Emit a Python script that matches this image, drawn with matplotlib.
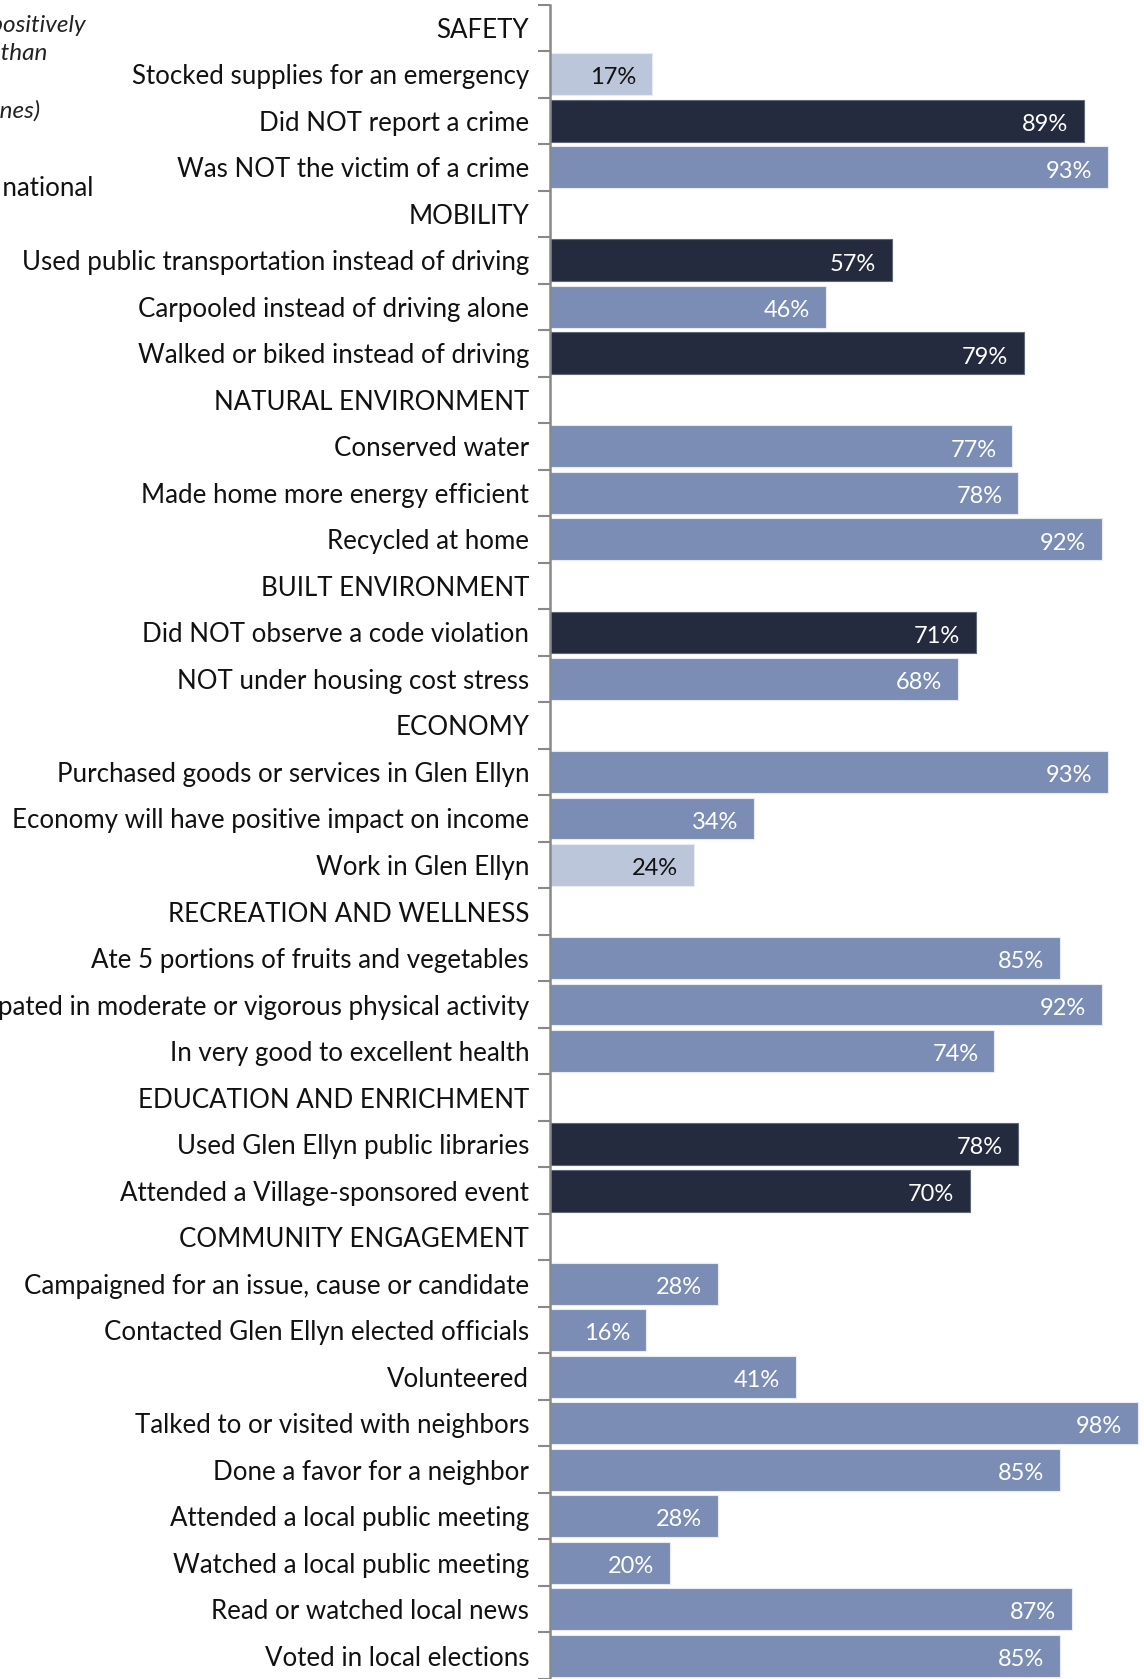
import matplotlib
matplotlib.use("Agg")
import matplotlib.pyplot as plt

plt.rcParams['font.family'] = ['Lato', 'DejaVu Sans']

# ---- data ----
labels = [
    "SAFETY",
    "Stocked supplies for an emergency",
    "Did NOT report a crime",
    "Was NOT the victim of a crime",
    "MOBILITY",
    "Used public transportation instead of driving",
    "Carpooled instead of driving alone",
    "Walked or biked instead of driving",
    "NATURAL ENVIRONMENT",
    "Conserved water",
    "Made home more energy efficient",
    "Recycled at home",
    "BUILT ENVIRONMENT",
    "Did NOT observe a code violation",
    "NOT under housing cost stress",
    "ECONOMY",
    "Purchased goods or services in Glen Ellyn",
    "Economy will have positive impact on income",
    "Work in Glen Ellyn",
    "RECREATION AND WELLNESS",
    "Ate 5 portions of fruits and vegetables",
    "Participated in moderate or vigorous physical activity",
    "In very good to excellent health",
    "EDUCATION AND ENRICHMENT",
    "Used Glen Ellyn public libraries",
    "Attended a Village-sponsored event",
    "COMMUNITY ENGAGEMENT",
    "Campaigned for an issue, cause or candidate",
    "Contacted Glen Ellyn elected officials",
    "Volunteered",
    "Talked to or visited with neighbors",
    "Done a favor for a neighbor",
    "Attended a local public meeting",
    "Watched a local public meeting",
    "Read or watched local news",
    "Voted in local elections",
]
# None = section header row
values = [None, 17, 89, 93,
          None, 57, 46, 79,
          None, 77, 78, 92,
          None, 71, 68,
          None, 93, 34, 24,
          None, 85, 92, 74,
          None, 78, 70,
          None, 28, 16, 41, 98, 85, 28, 20, 87, 85]
# comparison to national: "higher", "similar", "lower"
compare = [None, "lower", "higher", "similar",
           None, "higher", "similar", "higher",
           None, "similar", "similar", "similar",
           None, "higher", "similar",
           None, "similar", "similar", "lower",
           None, "similar", "similar", "similar",
           None, "higher", "higher",
           None, "similar", "similar", "similar", "similar", "similar",
           "similar", "similar", "similar", "similar"]

COLORS = {"higher": "#252b3f", "similar": "#7b8db5", "lower": "#bcc6db"}
EDGES = {"higher": "#5f677b", "similar": "#e8ebf2", "lower": "#e8ebf2"}
TXT = {"higher": "white", "similar": "white", "lower": "#111111"}

fig = plt.figure(figsize=(11.44, 16.79), dpi=100)
ax = fig.add_axes([550 / 1144, 0, 1 - 550 / 1144, 1 - 4.5 / 1679])

n = len(labels)
for i, (v, c) in enumerate(zip(values, compare)):
    if v is None:
        continue
    ax.barh(i, v, height=0.9, color=COLORS[c], edgecolor=EDGES[c],
            linewidth=0.8)
    ax.text(v - 2.6, i + 0.08, f"{v}%", ha='right', va='center',
            fontsize=17, color=TXT[c])

ax.set_xlim(0, 99)
ax.set_ylim(35.22, -0.5)
ax.set_yticks(range(n))
ax.set_yticklabels(labels, fontsize=18.6, color="#111111")
ax.set_yticks([i + 0.5 for i in range(-1, n)], minor=True)
ax.tick_params(axis='y', which='major', length=0, pad=15)
ax.tick_params(axis='y', which='minor', length=9, width=1.5, color="#888888")
ax.set_xticks([])
for s in ['top', 'right', 'bottom']:
    ax.spines[s].set_visible(False)
ax.spines['left'].set_color("#888888")
ax.spines['left'].set_linewidth(1.8)

# partially visible legend note on the left edge (clipped by the page)
fig.text(86 / 1144, 1 - 26 / 1679, "Darker bars: compare positively",
         ha='right', va='center', fontsize=17.5, style='italic', color="#222222")
fig.text(47 / 1144, 1 - 54 / 1679, "higher than",
         ha='right', va='center', fontsize=17.5, style='italic', color="#222222")
fig.text(40 / 1144, 1 - 111 / 1679, "(national guidelines)",
         ha='right', va='center', fontsize=17.5, style='italic', color="#222222")
fig.text(93 / 1144, 1 - 188 / 1679, "Similar to national",
         ha='right', va='center', fontsize=18.6, color="#111111")

fig.savefig("out.png", dpi=100)
